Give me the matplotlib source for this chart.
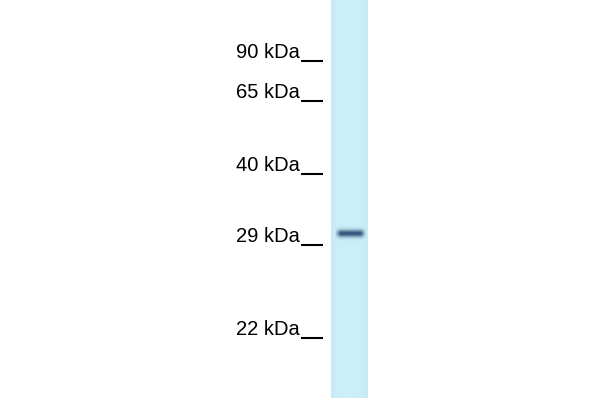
import numpy as np
import matplotlib.pyplot as plt

# marker ladder (label, migration in px from top of membrane)
marker_labels = ['90 kDa', '65 kDa', '40 kDa', '29 kDa', '22 kDa']
marker_pos = [61, 101, 174, 245, 338]

# detected band
band_pos = 233.5
band_intensity = 0.9

lane_left, lane_right = 331, 368
lane_top, lane_bottom = 0, 398

fig = plt.figure(figsize=(6, 4), dpi=100)
ax = fig.add_axes([0, 0, 1, 1])
ax.set_xlim(0, 600)
ax.set_ylim(400, 0)
ax.axis('off')

# lane image: light blue background with a dark band
h, w = 400, 40
yy = np.linspace(lane_top, lane_bottom, h)[:, None]
xx = np.linspace(0, 1, w)[None, :]
bg = np.array([0.80, 0.935, 0.975])
edge = 0.02 * (np.abs(xx - 0.5) * 2) ** 4
band_c = np.array([0.14, 0.25, 0.42])
prof_y = np.exp(-((yy - band_pos) / 3.6) ** 2)
prof_x = np.clip((xx - 0.10) / 0.15, 0, 1) * np.clip((0.96 - xx) / 0.15, 0, 1)
a = band_intensity * prof_y * prof_x
img = bg[None, None, :] * (1 - a[..., None]) + band_c[None, None, :] * a[..., None]
img = img - edge[..., None]
ax.imshow(np.clip(img, 0, 1), extent=[lane_left, lane_right, lane_bottom, lane_top],
          aspect='auto', interpolation='bilinear')

# marker ticks and labels
ax.hlines(marker_pos, 301, 323, color='black', lw=1.5)
for lab, y in zip(marker_labels, marker_pos):
    ax.text(300, y - 3, lab, ha='right', va='baseline', fontsize=14.5,
            family='Liberation Sans', color='black')

fig.savefig('out.png', dpi=100)
